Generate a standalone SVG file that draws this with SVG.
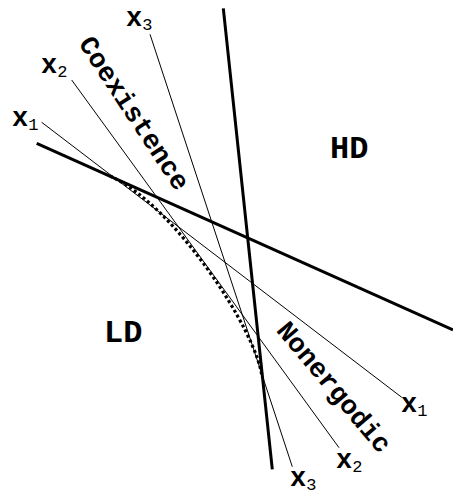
<svg xmlns="http://www.w3.org/2000/svg" width="453" height="495" viewBox="0 0 453 495">
<style>
.thick{stroke:#000;stroke-width:3;fill:none;stroke-linecap:butt}
.thin{stroke:#000;stroke-width:1;fill:none}
.dot{stroke:#000;stroke-width:3.2;fill:none;stroke-dasharray:3 2.6}
.lbl{font-family:"Liberation Mono","Courier New",monospace;font-weight:bold;fill:#000}
.big{font-size:32px}
.rot{font-size:27px}
.x{font-size:27px}
.sub{font-size:17px;font-weight:normal}
</style>
<rect width="453" height="495" fill="#fff"/>
<g id="connectors">
<line class="thick" x1="36.7" y1="143.3" x2="453" y2="330"/>
<line class="thick" x1="223.3" y1="8.3" x2="272.3" y2="469.3"/>
<line class="thin" x1="41.7" y1="122.3" x2="401.7" y2="397.3"/>
<line class="thin" x1="71.7" y1="80" x2="339" y2="447.7"/>
<line class="thin" x1="150" y1="34.3" x2="292.3" y2="466.7"/>
<path class="dot" d="M110,176 C175,205 257.2,332 262,377"/>
</g>
<g id="HD"><text class="lbl big" x="330" y="157.7">HD</text></g>
<g id="LD"><text class="lbl big" x="104" y="342">LD</text></g>
<g id="Coexistence"><text class="lbl rot" text-anchor="middle" transform="translate(127,118) rotate(56.6)">Coexistence</text></g>
<g id="Nonergodic"><text class="lbl rot" text-anchor="middle" transform="translate(327.5,392.7) rotate(50)">Nonergodic</text></g>
<g id="x1a"><text class="lbl x" x="12" y="126">x<tspan class="sub" dy="4">1</tspan></text></g>
<g id="x2a"><text class="lbl x" x="41" y="73">x<tspan class="sub" dy="4">2</tspan></text></g>
<g id="x3a"><text class="lbl x" x="126" y="26">x<tspan class="sub" dy="4">3</tspan></text></g>
<g id="x1b"><text class="lbl x" x="401" y="412">x<tspan class="sub" dy="4">1</tspan></text></g>
<g id="x2b"><text class="lbl x" x="336" y="468">x<tspan class="sub" dy="4">2</tspan></text></g>
<g id="x3b"><text class="lbl x" x="290" y="486">x<tspan class="sub" dy="4">3</tspan></text></g>
</svg>
